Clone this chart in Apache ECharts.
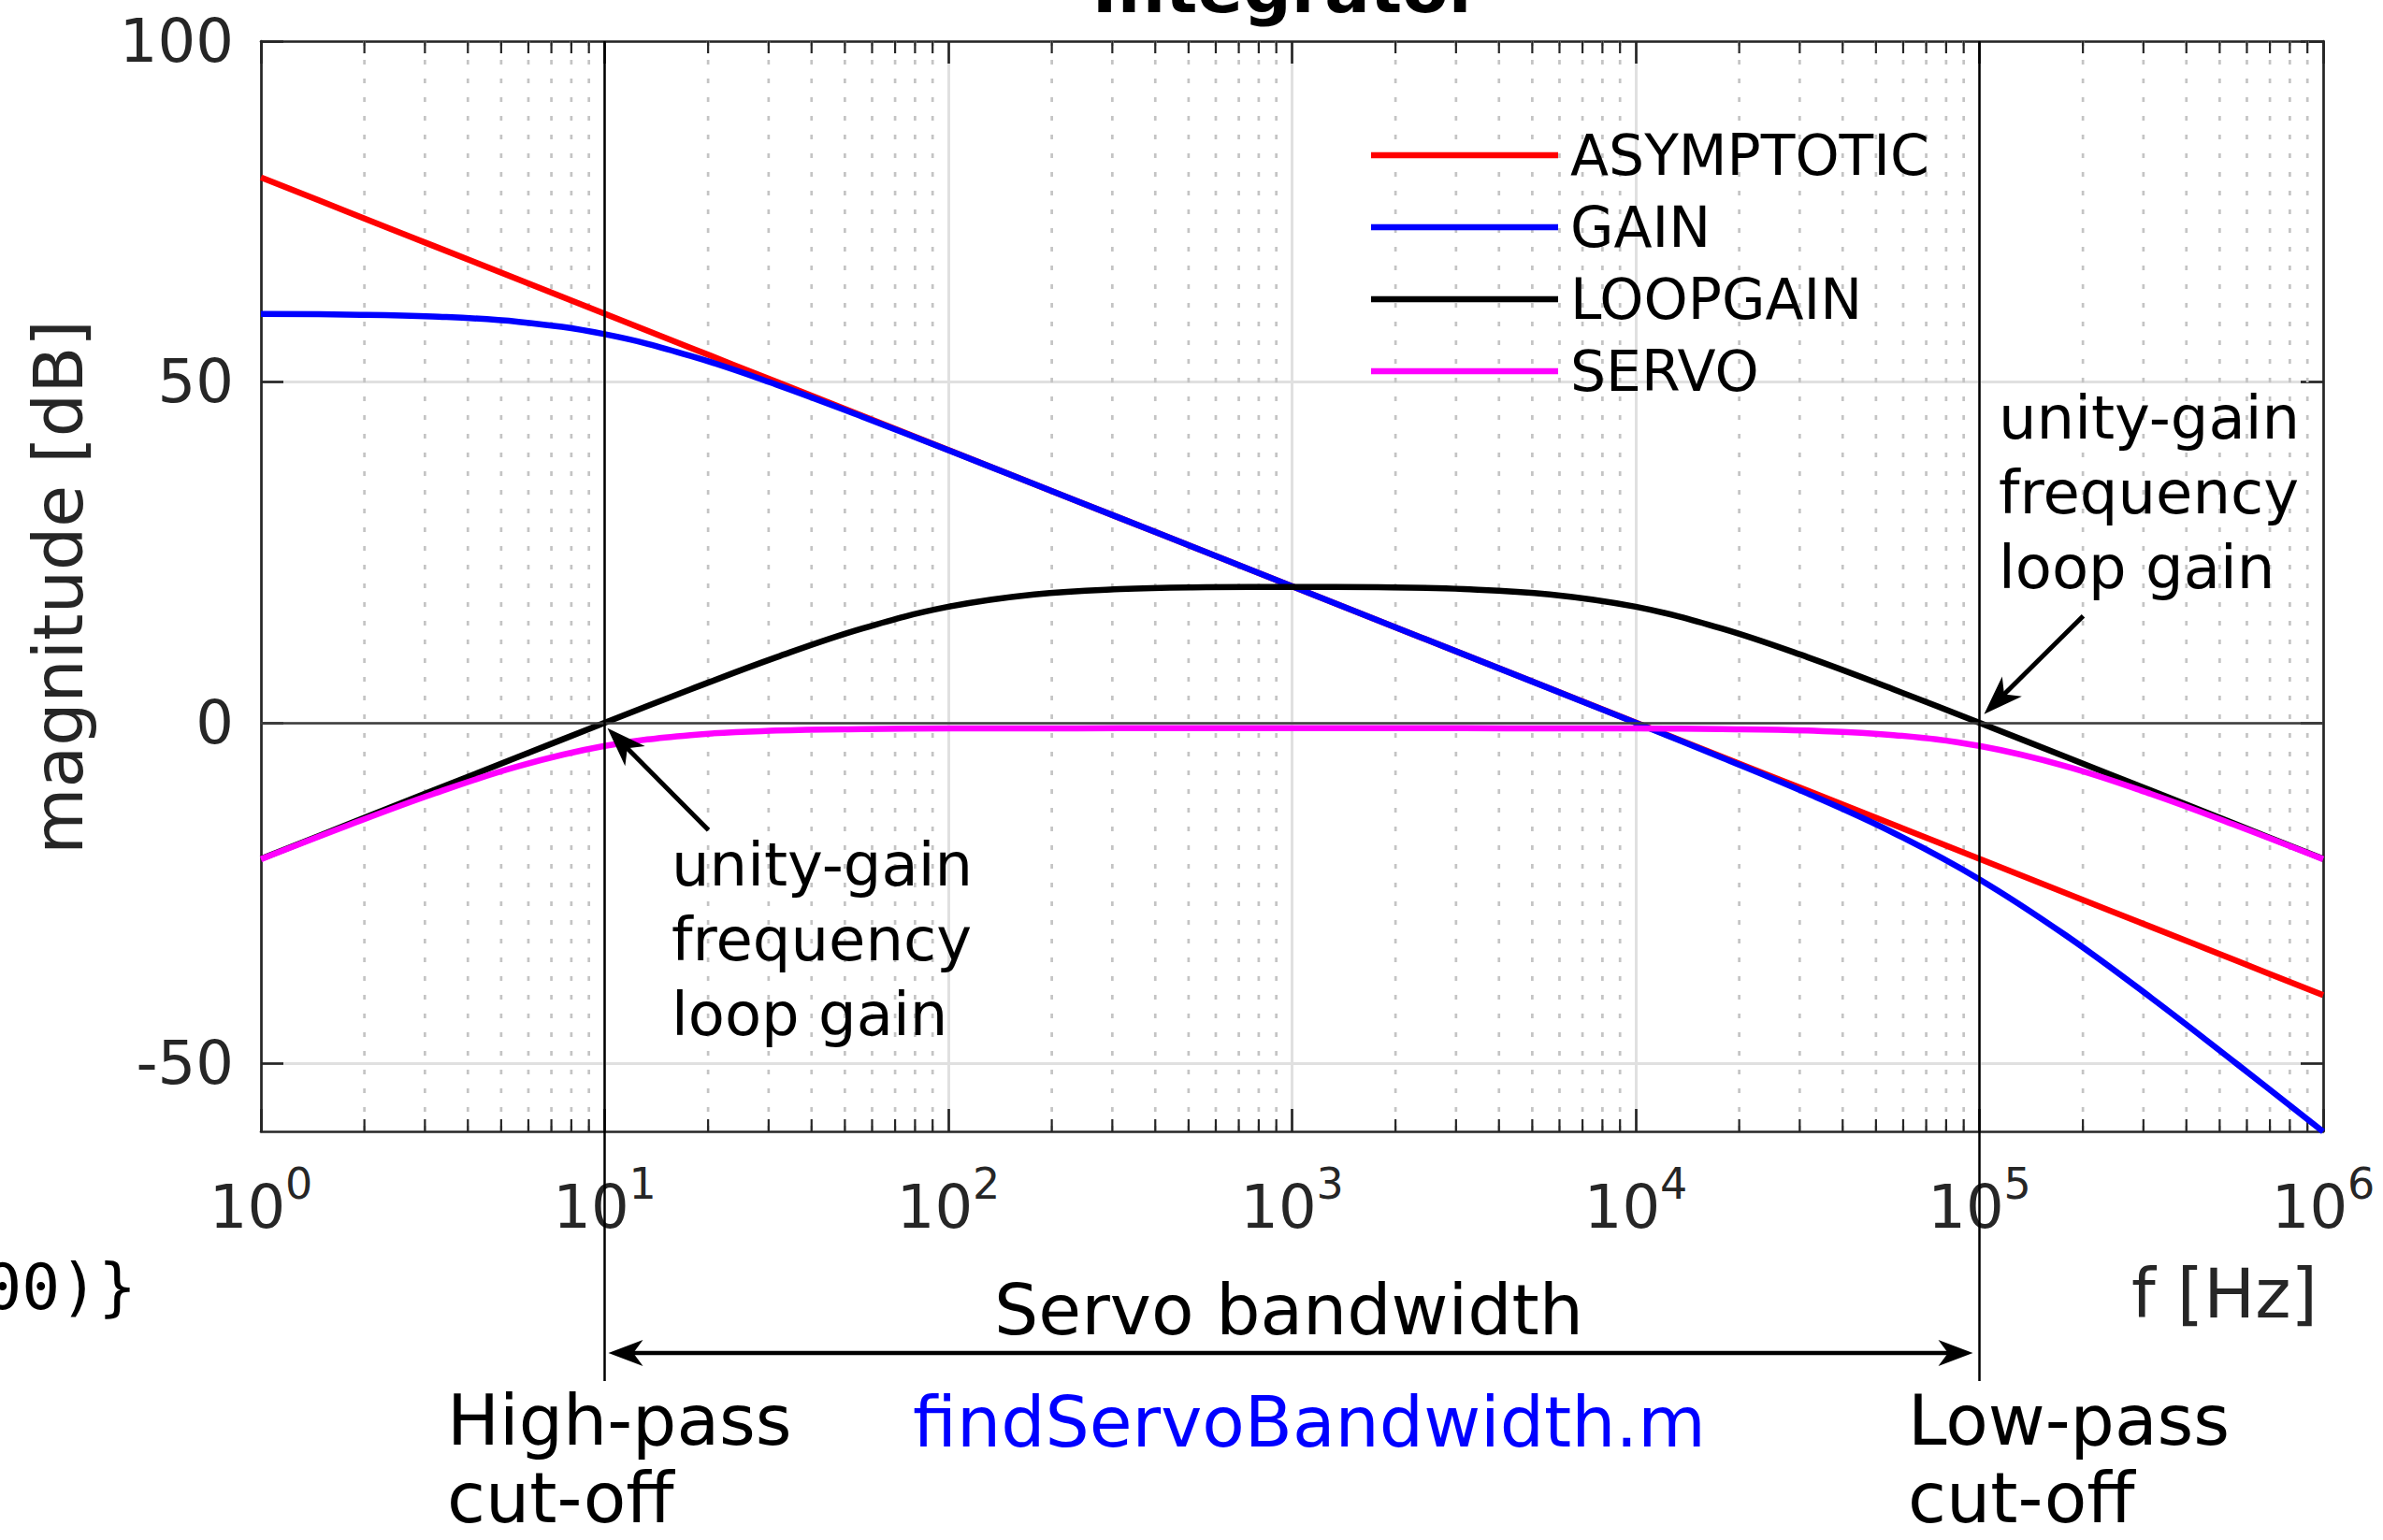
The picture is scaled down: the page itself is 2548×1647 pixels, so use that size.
<!DOCTYPE html>
<html><head><meta charset="utf-8">
<script src="https://cdn.jsdelivr.net/npm/echarts@6/dist/echarts.min.js"></script>
<style>html,body{margin:0;padding:0;background:#fff;overflow:hidden}#c{width:2548px;height:1647px}</style>
</head><body><div id="c"></div>
<script>
// frequency grid (quarter-decade points), Hz
const freq = [1, 1.778, 3.162, 5.623, 10, 17.78, 31.62, 56.23, 100, 177.8, 316.2, 562.3, 1000, 1778, 3162, 5623, 10000, 17783, 31623, 56234, 100000, 177828, 316228, 562341, 1000000];
// magnitudes in dB
const asymptotic = [80, 75, 70, 65, 60, 55, 50, 45, 40, 35, 30, 25, 20, 15, 10, 5, 0, -5, -10, -15, -20, -25, -30, -35, -40];
const gain = [59.96, 59.87, 59.59, 58.81, 56.99, 53.81, 49.59, 44.87, 39.96, 34.99, 30.0, 25.0, 20.0, 15.0, 10.0, 4.99, -0.04, -5.14, -10.41, -16.19, -23.01, -31.19, -40.41, -50.14, -60.04];
const loopgain = [-20.0, -15.0, -10.0, -5.01, -0.04, 4.87, 9.59, 13.81, 16.99, 18.81, 19.58, 19.85, 19.91, 19.85, 19.58, 18.81, 16.99, 13.81, 9.59, 4.87, -0.04, -5.01, -10.0, -15.0, -20.0];
const servo = [-20.05, -15.16, -10.5, -6.4, -3.44, -1.84, -1.18, -0.95, -0.87, -0.85, -0.84, -0.84, -0.84, -0.84, -0.84, -0.85, -0.87, -0.95, -1.18, -1.84, -3.44, -6.4, -10.5, -15.16, -20.05];

const seriesNames = ['ASYMPTOTIC', 'GAIN', 'LOOPGAIN', 'SERVO'];
const seriesColors = ['#ff0000', '#0000ff', '#000000', '#ff00ff'];

const xTickValues = [1, 10, 100, 1000, 10000, 100000, 1000000];
const xTickExponents = ['0', '1', '2', '3', '4', '5', '6'];
const yTickValues = [-50, 0, 50, 100];
const xMinorTicks = [2, 3, 4, 5, 6, 7, 8, 9, 20, 30, 40, 50, 60, 70, 80, 90, 200, 300, 400, 500, 600, 700, 800, 900, 2000, 3000, 4000, 5000, 6000, 7000, 8000, 9000, 20000, 30000, 40000, 50000, 60000, 70000, 80000, 90000, 200000, 300000, 400000, 500000, 600000, 700000, 800000, 900000];
const cutoffFreqs = [10, 100000];

const FONT = 'DejaVu Sans';
const AX = '#262626';
const LW = 6.5;
const chart = echarts.init(document.getElementById('c'), null, {renderer: 'svg', width: 2548, height: 1647});

function pairs(ys) { return freq.map((f, i) => [f, ys[i]]); }

const lineSeries = [asymptotic, gain, loopgain, servo].map((ys, i) => ({
  name: seriesNames[i], type: 'line', data: pairs(ys), showSymbol: false, smooth: 0.4,
  lineStyle: {color: seriesColors[i], width: LW}, itemStyle: {color: seriesColors[i]},
  z: 3, animation: false, emphasis: {disabled: true}
}));

const minorSeries = {
  type: 'custom', name: 'minor', data: xMinorTicks.map(v => [v, 0]), encode: {x: 0, y: 1},
  silent: true, z: 1, animation: false,
  renderItem: function (params, api) {
    const x = api.coord([api.value(0), 0])[0];
    const cs = params.coordSys; const top = cs.y, bot = cs.y + cs.height;
    return {type: 'group', children: [
      {type: 'line', shape: {x1: x, y1: top, x2: x, y2: bot}, style: {stroke: '#c4c4c4', lineWidth: 2.7, lineDash: [5, 15]}},
      {type: 'line', shape: {x1: x, y1: bot, x2: x, y2: bot - 13}, style: {stroke: AX, lineWidth: 2.2}},
      {type: 'line', shape: {x1: x, y1: top, x2: x, y2: top + 13}, style: {stroke: AX, lineWidth: 2.2}}
    ]};
  },
  markLine: {silent: true, symbol: 'none', animation: false, label: {show: false},
    lineStyle: {color: '#3c3c3c', width: 2.7, type: 'solid'}, data: [{yAxis: 0}]}
};

const axisLineStyle = {color: AX, width: 2.7};
const option = {
  backgroundColor: '#ffffff',
  animation: false,
  grid: {left: 279, top: 44, width: 2205, height: 1166},
  legend: {
    data: seriesNames, orient: 'vertical', left: 1461, top: 131, icon: 'rect',
    itemWidth: 200, itemHeight: LW, itemGap: 17, selectedMode: false,
    textStyle: {fontFamily: FONT, fontSize: 60, color: '#000', padding: [0, 0, 0, 8]}
  },
  xAxis: [
    {type: 'log', logBase: 10, min: 1, max: 1000000, position: 'bottom',
     axisLine: {show: true, onZero: false, lineStyle: axisLineStyle},
     axisTick: {show: true, inside: true, length: 24, lineStyle: {color: AX, width: 2.7}},
     splitLine: {show: true, lineStyle: {color: '#e0e0e0', width: 3}},
     axisLabel: {margin: 33, color: AX, fontFamily: FONT,
       formatter: function (v) {
         const i = Math.round(Math.log10(v));
         return '{b|10}{s|' + xTickExponents[i] + '}';
       },
       rich: {
         b: {fontFamily: FONT, fontSize: 64, color: AX, lineHeight: 80, verticalAlign: 'bottom'},
         s: {fontFamily: FONT, fontSize: 46, color: AX, lineHeight: 46, verticalAlign: 'top'}
       }}},
    {type: 'log', logBase: 10, min: 1, max: 1000000, position: 'top',
     axisLine: {show: true, onZero: false, lineStyle: axisLineStyle},
     axisTick: {show: true, inside: true, length: 24, lineStyle: {color: AX, width: 2.7}},
     splitLine: {show: false}, axisLabel: {show: false}}
  ],
  yAxis: [
    {type: 'value', min: -60, max: 100, position: 'left',
     axisLine: {show: true, onZero: false, lineStyle: axisLineStyle},
     axisTick: {show: true, inside: true, length: 24, customValues: yTickValues, lineStyle: {color: AX, width: 2.7}},
     axisLabel: {customValues: yTickValues, margin: 29, fontFamily: FONT, fontSize: 64, color: AX},
     splitLine: {show: true, lineStyle: {color: '#e0e0e0', width: 3}}},
    {type: 'value', min: -60, max: 100, position: 'right',
     axisLine: {show: true, onZero: false, lineStyle: axisLineStyle},
     axisTick: {show: true, inside: true, length: 24, customValues: yTickValues, lineStyle: {color: AX, width: 2.7}},
     axisLabel: {show: false}, splitLine: {show: false}}
  ],
  series: [minorSeries].concat(lineSeries)
};
chart.setOption(option);

const px = v => chart.convertToPixel({xAxisIndex: 0}, v);
const py = v => chart.convertToPixel({yAxisIndex: 0}, v);

function arrowHead(tip, tail, L, W) {
  const dx = tail[0] - tip[0], dy = tail[1] - tip[1];
  const len = Math.sqrt(dx * dx + dy * dy);
  const ux = dx / len, uy = dy / len, nx = -uy, ny = ux;
  return {type: 'polygon', z: 100, silent: true,
    shape: {points: [tip,
      [tip[0] + ux * L + nx * W, tip[1] + uy * L + ny * W],
      [tip[0] + ux * L * 0.72, tip[1] + uy * L * 0.72],
      [tip[0] + ux * L - nx * W, tip[1] + uy * L - ny * W]]},
    style: {fill: '#000'}};
}
function arrow(tip, tail, lw, L, W) {
  const dx = tail[0] - tip[0], dy = tail[1] - tip[1];
  const len = Math.sqrt(dx * dx + dy * dy);
  const s = [tip[0] + dx / len * L * 0.6, tip[1] + dy / len * L * 0.6];
  return [
    {type: 'line', z: 100, silent: true, shape: {x1: s[0], y1: s[1], x2: tail[0], y2: tail[1]}, style: {stroke: '#000', lineWidth: lw}},
    arrowHead(tip, tail, L, W)
  ];
}
function txt(text, x, y, size, opts) {
  opts = opts || {};
  return {type: 'text', z: 100, silent: true, x: x, y: y, rotation: opts.rotation || 0,
    style: {text: text, x: 0, y: 0, fontFamily: opts.family || FONT, fontSize: size,
      fontWeight: opts.weight || 'normal', fill: opts.color || '#000',
      align: opts.align || 'left', verticalAlign: opts.valign || 'middle', lineHeight: opts.lineHeight}};
}

const x10 = px(cutoffFreqs[0]), x1e5 = px(cutoffFreqs[1]);
const yTop = py(100), y0 = py(0);
const bwY = 1447;
let g = [];
g.push({type: 'line', z: 90, silent: true, shape: {x1: x10, y1: yTop, x2: x10, y2: 1477}, style: {stroke: '#000', lineWidth: 2.5}});
g.push({type: 'line', z: 90, silent: true, shape: {x1: x1e5, y1: yTop, x2: x1e5, y2: 1477}, style: {stroke: '#000', lineWidth: 2.5}});
const tipL = [x10 + 3, y0 + 6];
g = g.concat(arrow(tipL, [tipL[0] + 108, tipL[1] + 109], 5, 42, 15));
const tipR = [x1e5 + 5, y0 - 9];
g = g.concat(arrow(tipR, [tipR[0] + 106, tipR[1] - 105], 5, 42, 15));
// servo bandwidth double arrow
g.push({type: 'line', z: 100, silent: true, shape: {x1: x10 + 30, y1: bwY, x2: x1e5 - 33, y2: bwY}, style: {stroke: '#000', lineWidth: 4.5}});
g.push(arrowHead([x10 + 4, bwY], [x1e5, bwY], 37, 14));
g.push(arrowHead([x1e5 - 7, bwY], [x10, bwY], 37, 14));

g.push(txt('Integrator', 1376, -12, 72, {weight: 'bold', align: 'center'}));
g.push(txt('magnitude [dB]', 62, 628, 73, {rotation: Math.PI / 2, align: 'center', color: AX}));
g.push(txt('f [Hz]', 2478, 1383, 73, {align: 'right', color: AX}));
g.push(txt('unity-gain\nfrequency\nloop gain', 718, 885, 64, {valign: 'top', lineHeight: 80}));
g.push(txt('unity-gain\nfrequency\nloop gain', 2137, 407, 64, {valign: 'top', lineHeight: 80}));
g.push(txt('Servo bandwidth', 1378, 1401, 74.5, {align: 'center'}));
g.push(txt('High-pass', 478, 1519, 74.5, {lineHeight: 60}));
g.push(txt('cut-off', 478, 1602, 74.5, {lineHeight: 60}));
g.push(txt('findServoBandwidth.m', 976, 1521, 74.5, {color: '#0000ff', lineHeight: 60}));
g.push(txt('Low-pass', 2040, 1519, 74.5, {lineHeight: 60}));
g.push(txt('cut-off', 2040, 1602, 74.5, {lineHeight: 60}));
g.push(txt('000)}', 146, 1376, 68, {align: 'right', family: 'DejaVu Sans Mono'}));

chart.setOption({graphic: g});
</script>
</body></html>
